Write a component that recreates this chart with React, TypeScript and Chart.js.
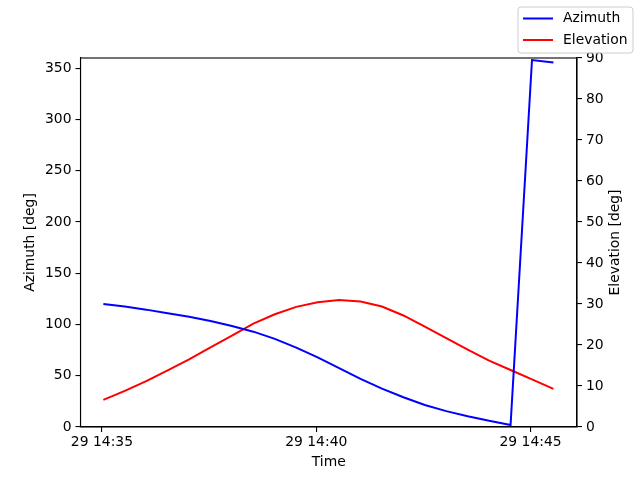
import Chart from 'chart.js/auto';
import { useEffect, useRef } from 'react';

const BLUE = '#0000ff';
const RED = '#ff0000';
const FONT = 'DejaVu Sans';
const FONT_SIZE = 13.9;
const DAY = '29';

// sample times (hh:mm:ss), roughly every 30 s
const times = [
  '14:35:02', '14:35:32', '14:36:02', '14:36:32', '14:37:02', '14:37:32',
  '14:38:02', '14:38:32', '14:39:02', '14:39:32', '14:40:02', '14:40:32',
  '14:41:02', '14:41:32', '14:42:02', '14:42:32', '14:43:02', '14:43:32',
  '14:44:02', '14:44:32', '14:45:02', '14:45:32',
];
const azimuth = [
  120, 117.5, 114.5, 111, 107.5, 103.5, 98.5, 93, 86, 77.5, 68,
  57.5, 47, 37.5, 29, 21.5, 15.5, 10.5, 6, 2, 358, 355.5,
];
const elevation = [
  6.6, 8.8, 11.2, 13.8, 16.5, 19.4, 22.3, 25.2, 27.5, 29.3, 30.4,
  31, 30.6, 29.4, 27.2, 24.5, 21.7, 18.9, 16.2, 13.9, 11.6, 9.3,
];
const xTickTimes = ['14:35:00', '14:40:00', '14:45:00'];
const azTicks = [0, 50, 100, 150, 200, 250, 300, 350];
const elTicks = [0, 10, 20, 30, 40, 50, 60, 70, 80, 90];
const xLimits = ['14:34:30', '14:46:05'];

const toSec = (t: string) => {
  const [h, m, s] = t.split(':').map(Number);
  return h * 3600 + m * 60 + s;
};
const fmt = (v: number) => {
  const h = Math.floor(v / 3600);
  const m = Math.floor((v % 3600) / 60);
  return `${DAY} ${h}:${String(m).padStart(2, '0')}`;
};

const tickFont = { family: FONT, size: FONT_SIZE };
const axisGrid = {
  drawOnChartArea: false,
  drawTicks: true,
  tickLength: 5,
  color: '#000',
  lineWidth: 1.1,
};
const axisBorder = { display: true, color: '#000', width: 1.1 };

const App = () => {
  const chartRef = useRef<HTMLCanvasElement | null>(null);
  useEffect(() => {
    document.body.style.margin = '0';
    if (chartRef.current === null) return () => {};
    const aChart = new Chart(chartRef.current, {
      type: 'line',
      data: {
        datasets: [
          {
            label: 'Azimuth',
            data: times.map((t, i) => ({ x: toSec(t), y: azimuth[i] })),
            borderColor: BLUE,
            borderWidth: 2,
            pointRadius: 0,
            yAxisID: 'y',
          },
          {
            label: 'Elevation',
            data: times.map((t, i) => ({ x: toSec(t), y: elevation[i] })),
            borderColor: RED,
            borderWidth: 2,
            pointRadius: 0,
            yAxisID: 'y1',
          },
        ],
      },
      plugins: [{
        id: 'mplFrame',
        afterDraw(chart) {
          const { ctx, chartArea: { left, right, top, bottom } } = chart;
          ctx.save();
          // box around plot
          ctx.strokeStyle = '#000';
          ctx.lineWidth = 1.1;
          ctx.strokeRect(left, top, right - left, bottom - top);

          // axis titles
          ctx.fillStyle = '#000';
          ctx.font = `${FONT_SIZE}px "${FONT}"`;
          ctx.textAlign = 'center';
          ctx.textBaseline = 'middle';
          ctx.fillText('Time', (left + right) / 2, 462);
          ctx.save();
          ctx.translate(30, (top + bottom) / 2);
          ctx.rotate(-Math.PI / 2);
          ctx.fillText('Azimuth [deg]', 0, 0);
          ctx.restore();
          ctx.save();
          ctx.translate(615, (top + bottom) / 2);
          ctx.rotate(-Math.PI / 2);
          ctx.fillText('Elevation [deg]', 0, 0);
          ctx.restore();

          // legend
          const lx = 518;
          const ly = 7;
          const lw = 115;
          const lh = 46;
          ctx.beginPath();
          ctx.roundRect(lx, ly, lw, lh, 3);
          ctx.fillStyle = 'rgba(255,255,255,0.8)';
          ctx.fill();
          ctx.strokeStyle = '#cccccc';
          ctx.lineWidth = 1;
          ctx.stroke();
          const items = [
            { label: 'Azimuth', color: BLUE, y: 18.5 },
            { label: 'Elevation', color: RED, y: 40 },
          ];
          items.forEach((it) => {
            ctx.beginPath();
            ctx.strokeStyle = it.color;
            ctx.lineWidth = 2;
            ctx.moveTo(523, it.y);
            ctx.lineTo(553, it.y);
            ctx.stroke();
            ctx.fillStyle = '#000';
            ctx.textAlign = 'left';
            ctx.fillText(it.label, 563, it.y);
          });
          ctx.restore();
        },
      }],
      options: {
        animation: false,
        responsive: true,
        maintainAspectRatio: false,
        layout: { padding: { top: 58, left: 0, right: 0, bottom: 0 } },
        plugins: {
          legend: { display: false },
          tooltip: { enabled: false },
        },
        scales: {
          x: {
            type: 'linear',
            min: toSec(xLimits[0]),
            max: toSec(xLimits[1]),
            afterBuildTicks(scale) {
              scale.ticks = xTickTimes.map((t) => ({ value: toSec(t) }));
            },
            afterFit(scale) {
              scale.height = 53;
            },
            ticks: {
              color: '#000',
              font: tickFont,
              padding: 2,
              maxRotation: 0,
              autoSkip: false,
              callback: (v) => fmt(Number(v)),
            },
            grid: axisGrid,
            border: axisBorder,
          },
          y: {
            position: 'left',
            min: 0,
            max: 360,
            afterBuildTicks(scale) {
              scale.ticks = azTicks.map((v) => ({ value: v }));
            },
            afterFit(scale) {
              scale.width = 80.5;
            },
            ticks: { color: '#000', font: tickFont, padding: 4 },
            grid: axisGrid,
            border: axisBorder,
          },
          y1: {
            position: 'right',
            min: 0,
            max: 90,
            afterBuildTicks(scale) {
              scale.ticks = elTicks.map((v) => ({ value: v }));
            },
            afterFit(scale) {
              scale.width = 63;
            },
            ticks: { color: '#000', font: tickFont, padding: 4 },
            grid: axisGrid,
            border: axisBorder,
          },
        },
      },
    });
    return () => {
      aChart.destroy();
    };
  }, []);

  return (
    <div style={{ width: 640, height: 480, position: 'relative', background: '#fff' }}>
      <canvas ref={chartRef} />
    </div>
  );
};

export default App;
